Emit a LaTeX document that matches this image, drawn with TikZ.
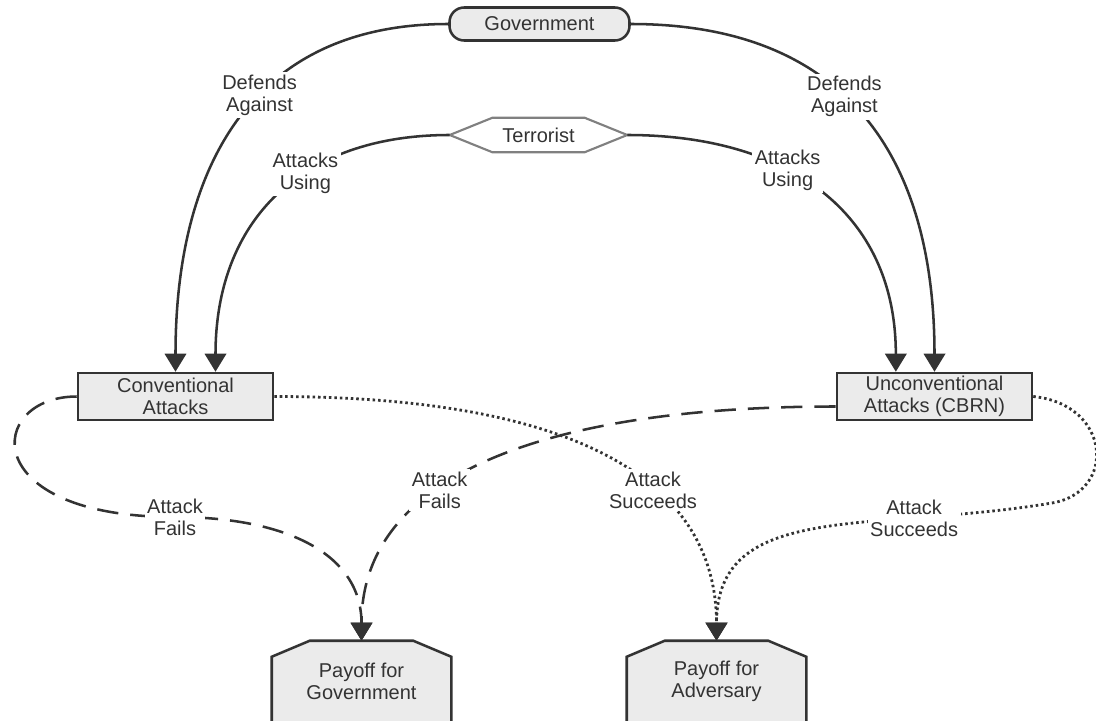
\documentclass[tikz,border=0pt]{standalone}
\usepackage{fontspec}
\setmainfont{Liberation Sans}
\usepackage{xcolor}
\definecolor{Gray1}{HTML}{333333}
\definecolor{Gray2}{HTML}{808080}
\definecolor{Gray6}{HTML}{EBEBEB}
\usetikzlibrary{arrows.meta,backgrounds}

\begin{document}
\begin{tikzpicture}[x=0.75pt,y=-0.75pt,font=\fontsize{15}{16.5}\selectfont,text=Gray1,
  box/.style={draw=Gray1,fill=Gray6,line width=1.9pt,inner sep=0pt,align=center,
    minimum width=146.25pt,minimum height=35.25pt},
  link/.style={draw=Gray1,line width=1.9pt,-{Triangle[width=16pt,length=13.5pt]}},
  fails/.style={link,dash pattern=on 16pt off 9pt},
  wins/.style={link,line width=2.1pt,dash pattern=on 1.9pt off 2.2pt},
  tag/.style={fill=white,inner sep=2pt,align=center}]
  \useasboundingbox (0,0) rectangle (1096,721);

  % Players
  \node[box,rounded corners=11pt,minimum width=135pt,minimum height=24.75pt] (gov) at (539.5,24) {Government};
  \node[inner sep=0pt,minimum width=132.75pt,minimum height=25.5pt] (terr) at (538.5,135) {Terrorist};
  \draw[draw=Gray2,line width=1.6pt] (terr.west) -- ([xshift=32pt]terr.north west)
    -- ([xshift=-32pt]terr.north east) -- (terr.east)
    -- ([xshift=-32pt]terr.south east) -- ([xshift=32pt]terr.south west) -- cycle;

  % Attacks
  \node[box] (conv) at (175.5,396.5) {Conventional\\Attacks};
  \node[box] (uncon) at (934.5,396.5) {Unconventional\\Attacks (CBRN)};

  % Payoffs
  \node[inner sep=0pt,align=center,minimum width=134.25pt,minimum height=60pt] (payg) at (361.5,681) {Payoff for\\Government};
  \node[inner sep=0pt,align=center,minimum width=134.25pt,minimum height=60pt] (paya) at (716.5,681) {Payoff for\\Adversary};
  \begin{scope}[on background layer]
    \foreach \p in {payg,paya}
      \draw[draw=Gray1,fill=Gray6,line width=1.9pt] ([yshift=-20pt]\p.south west)
        -- ([yshift=-12pt]\p.north west) -- ([xshift=28.5pt]\p.north west)
        -- ([xshift=-28.5pt]\p.north east) -- ([yshift=-12pt]\p.north east)
        -- ([yshift=-20pt]\p.south east);
  \end{scope}

  % Government defends
  \draw[link] (gov.west) .. controls +(-200,0) and +(0,-200) .. (conv.north)
    node[tag,pos=0.42] {Defends\\Against};
  \draw[link] (gov.east) .. controls +(215,0) and +(0,-215) .. (uncon.north)
    node[tag,pos=0.44] {Defends\\Against};

  % Terrorist attacks
  \draw[link] (terr.west) .. controls +(-150,0) and +(0,-150) .. ([xshift=30pt]conv.north)
    node[tag,pos=0.39] {Attacks\\Using};
  \draw[link] (terr.east) .. controls +(160,0) and +(0,-160) .. ([xshift=-29pt]uncon.north)
    node[tag,pos=0.39] {Attacks\\Using};

  % Attack fails
  \coordinate (cfail) at (175,517);
  \draw[fails] (conv.west) .. controls +(-90,0) and +(-200,0) .. (cfail) node[tag] {Attack\\Fails}
    .. controls +(105,0) and +(0,-90) .. (payg.north);
  \draw[fails] ([yshift=-7.5pt]uncon.west) .. controls +(-280,0) and +(0,-170) .. (payg.north)
    node[tag,pos=0.62] {Attack\\Fails};

  % Attack succeeds
  \draw[wins] (conv.east) .. controls +(320,0) and +(0,-150) .. (paya.north)
    node[tag,pos=0.6] {Attack\\Succeeds};
  \coordinate (cloop) at (1052,503);
  \draw[wins] (uncon.east) .. controls +(78,8) and +(65,-11) .. (cloop)
    .. controls +(-180,30) and +(0,-141) .. (paya.north)
    node[tag,pos=0.27] {Attack\\Succeeds};
\end{tikzpicture}
\end{document}
